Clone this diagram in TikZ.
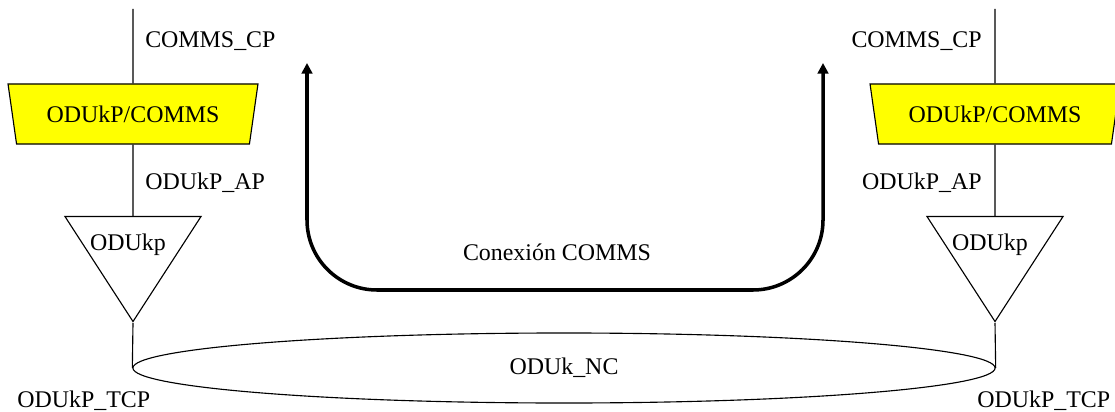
\documentclass[tikz,border=0pt]{standalone}
\usepackage{fontspec}
\setmainfont{Liberation Serif}
\usetikzlibrary{arrows.meta,positioning,shapes.geometric}
\definecolor{yelx}{HTML}{FFFF00}
\tikzset{
  lbl/.style={inner sep=0pt,font=\fontsize{17}{20}\selectfont},
  adapt/.style={trapezium,shape border rotate=180,trapezium left angle=69.4,trapezium right angle=69.4,
    trapezium stretches=true,minimum width=6.25cm,minimum height=1.5cm,inner sep=0pt,
    draw,line width=0.8pt,fill=yelx,font=\fontsize{17}{20}\selectfont},
  term/.style={isosceles triangle,shape border rotate=-90,isosceles triangle stretches=true,
    minimum width=3.4cm,minimum height=2.625cm,inner sep=0pt,draw,line width=0.8pt},
  ncbox/.style={ellipse,draw,line width=0.8pt,minimum width=21.55cm,minimum height=1.75cm,
    inner sep=0pt,font=\fontsize{17}{20}\selectfont},
  wire/.style={line width=0.8pt},
  conn/.style={{Triangle[length=7.5pt,width=7.5pt]}-{Triangle[length=7.5pt,width=7.5pt]},line width=2.5pt,rounded corners=1.75cm}
}
\begin{document}
\begin{tikzpicture}[x=0.025cm,y=-0.025cm]
\useasboundingbox (0,0) rectangle (1115,412);
% network connection
\node[ncbox] (nc) at (564,368) {ODUk\_NC};
% left side
\coordinate (ltop) at (133,9);
\node[adapt] (ladapt) at (133,114) {ODUkP/COMMS};
\node[term,anchor=apex] (lterm) at (133,323) {};
\node[lbl,anchor=base] (ltxt) at (128,250) {ODUkp};
\draw[wire] (ltop) -- (ladapt.north);
\draw[wire] (ladapt.south) -- (lterm.north);
\draw[wire] (lterm.apex) -- (nc.west);
\node[lbl,anchor=base west] (lcp) at (145,48) {COMMS\_CP};
\node[lbl,anchor=base west] (lap) at (145,190) {ODUkP\_AP};
\node[lbl,anchor=base west] (ltcp) at (17,407) {ODUkP\_TCP};
% right side
\coordinate (rtop) at (995,9);
\node[adapt] (radapt) at (995,114) {ODUkP/COMMS};
\node[term,anchor=apex] (rterm) at (995,323) {};
\node[lbl,anchor=base] (rtxt) at (990,250) {ODUkp};
\draw[wire] (rtop) -- (radapt.north);
\draw[wire] (radapt.south) -- (rterm.north);
\draw[wire] (rterm.apex) -- (nc.east);
\node[lbl,anchor=base east] (rcp) at (982,48) {COMMS\_CP};
\node[lbl,anchor=base east] (rap) at (982,190) {ODUkP\_AP};
\node[lbl,anchor=base west] (rtcp) at (977,407) {ODUkP\_TCP};
% COMMS connection
\coordinate (ca) at (307,63);
\coordinate (cb) at (823,63);
\coordinate (cbot) at (565,290);
\draw[conn] (ca) -- (ca |- cbot) -- (cb |- cbot) -- (cb);
\node[lbl,anchor=base] (clbl) at (557,261) {Conexión COMMS};
\end{tikzpicture}
\end{document}
